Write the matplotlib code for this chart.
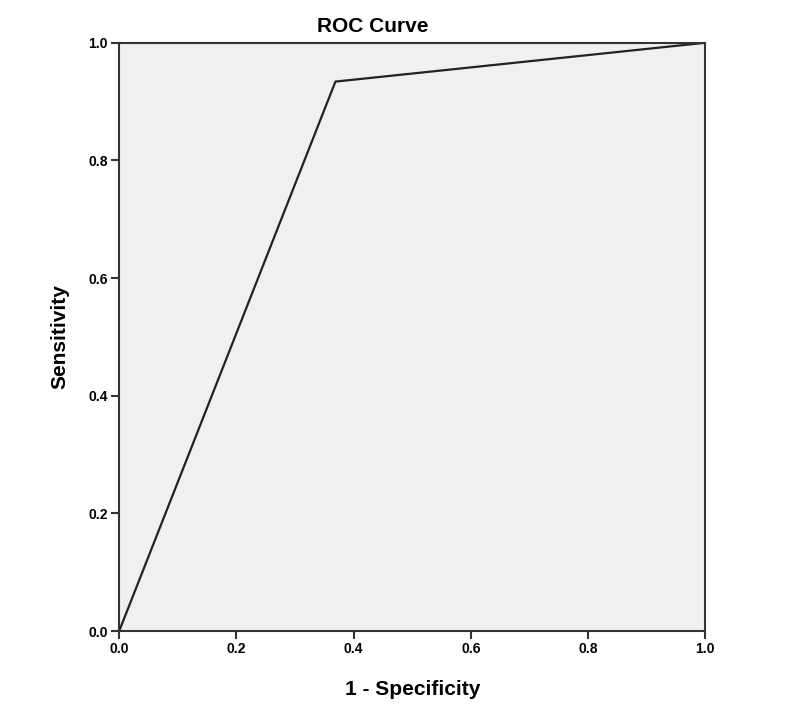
import matplotlib
matplotlib.use("Agg")
import matplotlib.pyplot as plt

plt.rcParams['font.family'] = ['Liberation Sans', 'DejaVu Sans']

# ROC points (1 - specificity, sensitivity)
fpr = [0.0, 0.369, 1.0]
tpr = [0.0, 0.934, 1.0]
ticks = [0.0, 0.2, 0.4, 0.6, 0.8, 1.0]

fig = plt.figure(figsize=(8, 7.13), dpi=100)
ax = fig.add_axes([0.149, 0.115, 0.7325, 0.825])
ax.set_facecolor('#f0f0f0')

ax.plot(fpr, tpr, color='#222222', linewidth=1.6)

ax.set_xlim(0, 1)
ax.set_ylim(0, 1)
ax.set_xticks(ticks)
ax.set_yticks(ticks)
ax.set_xticklabels([f"{t:.1f}" for t in ticks], fontweight='bold', fontsize=10)
ax.set_yticklabels([f"{t:.1f}" for t in ticks], fontweight='bold', fontsize=10)
ax.tick_params(direction='out', length=6, width=1.5, color='#333333', pad=2)
for s in ax.spines.values():
    s.set_linewidth(1.5)
    s.set_color('#333333')

ax.set_xlabel('1 - Specificity', fontsize=15, fontweight='bold', labelpad=17)
ax.set_ylabel('Sensitivity', fontsize=15, fontweight='bold', labelpad=14)
fig.text(373 / 800, 1 - 26 / 713, 'ROC Curve', ha='center', va='center',
         fontsize=15, fontweight='bold')

fig.savefig('out.png', dpi=100)
